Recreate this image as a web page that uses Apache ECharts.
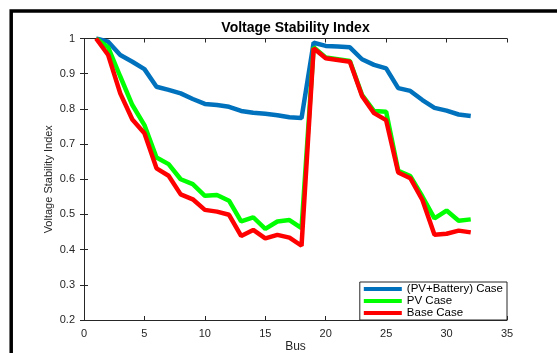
<!DOCTYPE html>
<html>
<head>
<meta charset="utf-8">
<script src="https://cdn.jsdelivr.net/npm/echarts@6/dist/echarts.min.js"></script>
<style>
html,body{margin:0;padding:0;background:#fff;}
#c{width:557px;height:353px;}
</style>
</head>
<body>
<div id="c"></div>
<script>
var buses = [1,2,3,4,5,6,7,8,9,10,11,12,13,14,15,16,17,18,19,20,21,22,23,24,25,26,27,28,29,30,31,32];
var pvBattery = [1.0,0.991,0.953,0.934,0.913,0.863,0.854,0.844,0.828,0.814,0.811,0.806,0.794,0.789,0.786,0.782,0.776,0.774,0.988,0.979,0.977,0.975,0.941,0.925,0.915,0.859,0.851,0.825,0.803,0.795,0.784,0.780];
var pvCase = [1.0,0.975,0.892,0.811,0.754,0.662,0.643,0.600,0.586,0.553,0.555,0.539,0.480,0.492,0.459,0.480,0.484,0.461,0.975,0.946,0.941,0.936,0.840,0.794,0.792,0.624,0.609,0.551,0.489,0.511,0.482,0.486];
var baseCase = [1.0,0.953,0.844,0.770,0.731,0.631,0.610,0.557,0.543,0.513,0.508,0.499,0.439,0.456,0.432,0.442,0.434,0.411,0.972,0.944,0.939,0.934,0.837,0.788,0.768,0.619,0.603,0.541,0.442,0.445,0.454,0.449];
var xTicks = {min:0, max:35, interval:5};
var yTicks = {min:0.2, max:1, interval:0.1};

function pairs(v){ return buses.map(function(b,i){ return [b, v[i]]; }); }

var chart = echarts.init(document.getElementById('c'));
var font = 'Liberation Sans, Arial, sans-serif';
var axisCommon = {
  axisLine:{show:true, lineStyle:{color:'#262626', width:1}},
  axisTick:{show:true, inside:true, length:4, lineStyle:{color:'#262626'}},
  splitLine:{show:false}
};
chart.setOption({
  animation:false,
  backgroundColor:'#fff',
  textStyle:{fontFamily:font},
  graphic:[
    {type:'rect', shape:{x:11.2, y:11, width:800, height:600}, style:{fill:'none', stroke:'#000', lineWidth:3.5}, z:100},
    {type:'text', x:295.5, y:28, style:{text:'Voltage Stability Index', fontFamily:font, fontSize:14, fontWeight:'bold', fill:'#000', textAlign:'center', textVerticalAlign:'middle'}}
  ],
  grid:{left:84, right:50, top:38.5, bottom:33, containLabel:false, outerBoundsMode:'none'},
  legend:{
    orient:'vertical', right:50, bottom:33,
    backgroundColor:'#fff', borderColor:'#262626', borderWidth:1, borderRadius:0,
    padding:[1,4,1,4], itemGap:0, itemWidth:38, itemHeight:4,
    icon:'rect',
    textStyle:{fontFamily:font, fontSize:11.5, color:'#000'},
    data:['(PV+Battery) Case','PV Case','Base Case']
  },
  xAxis:[
    Object.assign({type:'value', min:xTicks.min, max:xTicks.max, interval:xTicks.interval, position:'bottom',
      name:'Bus', nameLocation:'middle', nameGap:21, nameMoveOverlap:false, nameTextStyle:{fontFamily:font, fontSize:12, color:'#262626'},
      axisLabel:{fontFamily:font, fontSize:11, color:'#262626', margin:8}}, axisCommon),
    Object.assign({type:'value', min:xTicks.min, max:xTicks.max, interval:xTicks.interval, position:'top',
      axisLabel:{show:false}}, axisCommon)
  ],
  yAxis:[
    Object.assign({type:'value', min:yTicks.min, max:yTicks.max, interval:yTicks.interval, position:'left',
      name:'Voltage Stability Index', nameLocation:'middle', nameGap:30, nameMoveOverlap:false, nameTextStyle:{fontFamily:font, fontSize:11, color:'#262626'},
      axisLabel:{fontFamily:font, fontSize:11, color:'#262626', margin:9,
        formatter:function(v){ return String(Math.round(v*10)/10); }}}, axisCommon),
    Object.assign({type:'value', min:yTicks.min, max:yTicks.max, interval:yTicks.interval, position:'right',
      axisLabel:{show:false}}, axisCommon)
  ],
  series:[
    {name:'(PV+Battery) Case', type:'line', data:pairs(pvBattery), showSymbol:false, symbol:'none', color:'#0072BD', lineStyle:{width:4.5, color:'#0072BD'}},
    {name:'PV Case', type:'line', data:pairs(pvCase), showSymbol:false, symbol:'none', color:'#00FF00', lineStyle:{width:4.5, color:'#00FF00'}},
    {name:'Base Case', type:'line', data:pairs(baseCase), showSymbol:false, symbol:'none', color:'#FF0000', lineStyle:{width:4.5, color:'#FF0000'}}
  ]
});
</script>
</body>
</html>
